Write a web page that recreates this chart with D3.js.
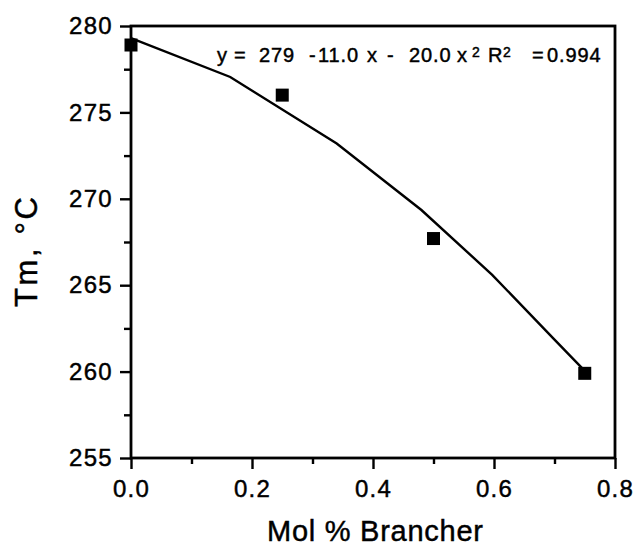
<!DOCTYPE html>
<html>
<head>
<meta charset="utf-8">
<script src="https://cdn.jsdelivr.net/npm/d3@7"></script>
<style>
  body { margin: 0; background: #fff; }
  svg { display: block; }
  text { font-family: "Liberation Sans", Arial, Helvetica, sans-serif; fill: #000;
         stroke: #000; stroke-width: 0.45px; }
  .tick text { font-size: 24px; letter-spacing: 1.3px; }
  .tick line { stroke: #000; stroke-width: 2.4; }
</style>
</head>
<body>
<svg id="chart"></svg>
<script>
// measured points: mol % brancher vs melting temperature
var brancher = [0.0, 0.25, 0.5, 0.75];
var tm = [278.9, 276.0, 267.7, 259.9];

// fitted curve as drawn (vertices)
var fitX = [0.0, 0.164, 0.34, 0.48, 0.597, 0.70, 0.754];
var fitY = [279.3, 277.05, 273.2, 269.35, 265.6, 261.85, 259.9];

// tick values
var xMajor = [0.0, 0.2, 0.4, 0.6, 0.8];
var xMinor = [0.1, 0.3, 0.5, 0.7];
var yMajor = [255, 260, 265, 270, 275, 280];
var yMinor = [257.5, 262.5, 267.5, 272.5, 277.5];

var width = 637, height = 548;
var margin = {top: 26, right: 22, bottom: 90, left: 131};

var svg = d3.select("#chart")
    .attr("width", width)
    .attr("height", height);

var x = d3.scaleLinear()
    .domain([0, 0.8])
    .range([margin.left, width - margin.right]);

var y = d3.scaleLinear()
    .domain([255, 280])
    .range([height - margin.bottom, margin.top]);

// minor ticks first, no labels
svg.append("g")
    .attr("transform", "translate(0," + y(255) + ")")
    .call(d3.axisBottom(x).tickValues(xMinor).tickSize(6).tickFormat(""))
    .call(function(g) { g.select(".domain").remove(); });

svg.append("g")
    .attr("transform", "translate(" + x(0) + ",0)")
    .call(d3.axisLeft(y).tickValues(yMinor).tickSize(7).tickFormat(""))
    .call(function(g) { g.select(".domain").remove(); });

// major ticks with labels
svg.append("g")
    .attr("transform", "translate(0," + y(255) + ")")
    .call(d3.axisBottom(x).tickValues(xMajor).tickSize(11).tickPadding(11)
        .tickFormat(d3.format(".1f")))
    .call(function(g) { g.select(".domain").remove(); });

svg.append("g")
    .attr("transform", "translate(" + x(0) + ",0)")
    .call(d3.axisLeft(y).tickValues(yMajor).tickSize(11).tickPadding(7)
        .tickFormat(d3.format("d")))
    .call(function(g) { g.select(".domain").remove(); });

// frame
svg.append("rect")
    .attr("x", x(0))
    .attr("y", y(280))
    .attr("width", x(0.8) - x(0))
    .attr("height", y(255) - y(280))
    .attr("fill", "none")
    .attr("stroke", "#000")
    .attr("stroke-width", 2.8);

// fitted line
var line = d3.line()
    .x(function(d) { return x(d[0]); })
    .y(function(d) { return y(d[1]); });

svg.append("path")
    .datum(d3.zip(fitX, fitY))
    .attr("d", line)
    .attr("fill", "none")
    .attr("stroke", "#000")
    .attr("stroke-width", 2.4);

// square markers
var s = 13;
svg.selectAll(".pt")
    .data(d3.zip(brancher, tm))
    .enter().append("rect")
    .attr("class", "pt")
    .attr("x", function(d) { return x(d[0]) - s / 2; })
    .attr("y", function(d) { return y(d[1]) - s / 2; })
    .attr("width", s)
    .attr("height", s)
    .attr("fill", "#000");

// axis titles
svg.append("text")
    .attr("x", (x(0) + x(0.8)) / 2 + 2)
    .attr("y", 541)
    .attr("text-anchor", "middle")
    .attr("font-size", 29)
    .attr("textLength", 216)
    .text("Mol % Brancher");

svg.append("text")
    .attr("transform", "translate(37,252) rotate(-90)")
    .attr("text-anchor", "middle")
    .attr("font-size", 31)
    .attr("textLength", 110)
    .text("Tm, °C");

// regression equation, placed piece by piece like the original
var eqParts = ["y", "=", "279", "-", "11.0", "x", "-", "20.0", "x", "2", "R", "2", "=", "0.994"];
var eqSup = [0, 0, 0, 0, 0, 0, 0, 0, 0, 1, 0, 1, 0, 0];
var eqLeft = [217, 234, 259, 309, 318, 367, 387, 409, 457, 472, 488, 503, 532, 547];

svg.append("g").selectAll("text")
    .data(eqParts)
    .enter().append("text")
    .attr("x", function(d, i) { return eqLeft[i]; })
    .attr("y", function(d, i) { return eqSup[i] ? 57 : 62; })
    .attr("font-size", function(d, i) { return eqSup[i] ? 14 : 20; })
    .style("letter-spacing", function(d, i) { return eqSup[i] ? "0px" : "0.9px"; })
    .text(function(d) { return d; });
</script>
</body>
</html>
